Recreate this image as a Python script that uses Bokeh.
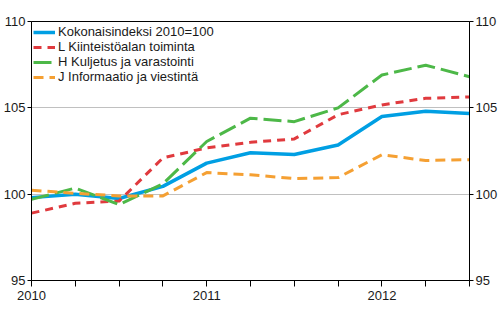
from bokeh.plotting import figure
from bokeh.models import (ColumnDataSource, FixedTicker, LinearAxis, Range1d,
                          Legend, LegendItem)
from bokeh.embed import file_html
from bokeh.resources import INLINE

quarters = list(range(11))
tick_labels = {0: "2010", 4: "2011", 8: "2012"}

kokonais = [99.8, 100.0, 99.75, 100.45, 101.8, 102.4, 102.3, 102.85, 104.5, 104.8, 104.67]
kiinteisto = [98.9, 99.47, 99.6, 102.1, 102.68, 103.0, 103.2, 104.6, 105.17, 105.55, 105.63]
kuljetus = [99.7, 100.35, 99.4, 100.6, 103.05, 104.4, 104.2, 105.0, 106.9, 107.47, 106.8]
informaatio = [100.23, 100.05, 99.9, 99.9, 101.25, 101.12, 100.9, 100.96, 102.28, 101.95, 102.0]

names = ["Kokonaisindeksi 2010=100", "L Kiinteistöalan toiminta",
         "H Kuljetus ja varastointi", "J Informaatio ja viestintä"]
colors = ["#009FE3", "#E03A3E", "#4DB848", "#F5A033"]
dashes = ["solid", "8 6", "18 6", "10 6"]
widths = [3.5, 3, 3, 3]
series = [kokonais, kiinteisto, kuljetus, informaatio]

FONT = "Liberation Sans"
FSIZE = "13px"

p = figure(width=500, height=330, output_backend="svg", toolbar_location=None,
           x_range=Range1d(0, 10), y_range=Range1d(95, 110),
           min_border_left=28, min_border_right=30, min_border_top=21,
           min_border_bottom=50, y_axis_location=None, x_axis_location=None)
p.outline_line_color = "black"
p.outline_line_width = 1
p.background_fill_color = "white"
p.border_fill_color = "white"

p.xgrid.visible = False
p.ygrid.ticker = FixedTicker(ticks=[100, 105])
p.ygrid.grid_line_color = "#C0C0C0"
p.ygrid.grid_line_width = 1

def style_axis(ax):
    ax.axis_line_color = "black"
    ax.major_tick_line_color = "black"
    ax.minor_tick_line_color = "black"
    ax.major_label_text_font = FONT
    ax.major_label_text_font_size = FSIZE
    ax.major_label_text_color = "#1a1a1a"

xax = LinearAxis(ticker=FixedTicker(ticks=[0, 4, 8],
                                    minor_ticks=[q for q in quarters if q not in tick_labels]))
xax.major_label_overrides = {k: v for k, v in tick_labels.items()}
style_axis(xax)
xax.major_tick_in = 0
xax.major_tick_out = 6
xax.minor_tick_in = 0
xax.minor_tick_out = 6
xax.major_label_standoff = 4
p.add_layout(xax, "below")

for side in ["left", "right"]:
    yax = LinearAxis(ticker=FixedTicker(ticks=[95, 100, 105, 110]))
    style_axis(yax)
    yax.major_tick_in = 0
    yax.major_tick_out = 4
    yax.minor_tick_line_color = None
    yax.major_label_standoff = 2
    p.add_layout(yax, side)

items = []
for name, col, dash, w, vals in zip(names, colors, dashes, widths, series):
    src = ColumnDataSource(data=dict(x=quarters, y=vals))
    r = p.line("x", "y", source=src, line_color=col, line_width=w,
               line_dash=dash, line_join="round")
    items.append(LegendItem(label=name, renderers=[r]))

legend = Legend(items=items, location=(2, 196), margin=0, padding=0,
                spacing=0, glyph_width=22, glyph_height=14, label_height=14,
                label_standoff=3, border_line_color=None,
                background_fill_alpha=0.0,
                label_text_font=FONT, label_text_font_size=FSIZE,
                label_text_color="#1a1a1a")
p.add_layout(legend, "center")

open("out.html", "w").write(file_html(p, INLINE))
